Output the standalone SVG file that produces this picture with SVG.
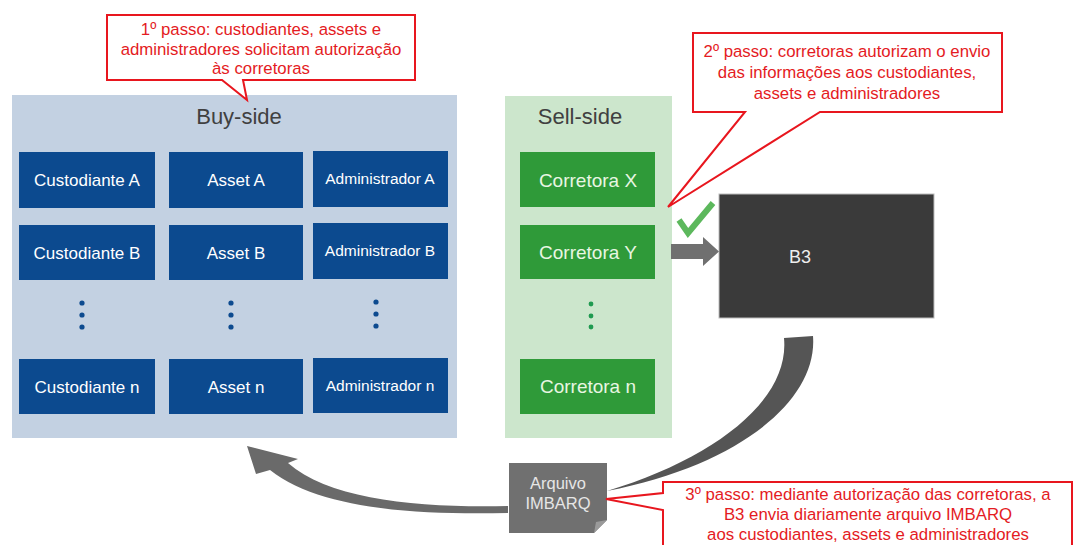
<svg xmlns="http://www.w3.org/2000/svg" width="1073" height="545" viewBox="0 0 1073 545">
<style>
text{font-family:"Liberation Sans",Arial,sans-serif}
.panelB{fill:#c3d1e2}
.panelS{fill:#cce6cc}
.bbox{fill:#0c4a8f}
.gbox{fill:#2f9a39}
.bt{fill:#ffffff;font-size:17px;text-anchor:middle}
.at{fill:#ffffff;font-size:15.5px;text-anchor:middle}
.gt{fill:#e8f6e2;font-size:19px;text-anchor:middle}
.title{fill:#404040;font-size:22px;text-anchor:middle}
.dotB{fill:#0c4a8f}
.dotG{fill:#1f9a50}
.call{fill:#ffffff;stroke:#e8161e;stroke-width:2;stroke-linejoin:miter}
.ct{fill:#e41b23;font-size:16.8px;text-anchor:middle}
</style>
<rect width="1073" height="545" fill="#ffffff"/>

<g id="buy-side">
<rect class="panelB" x="12" y="95" width="445" height="343"/>
<text class="title" x="239" y="124">Buy-side</text>
</g>
<g id="custodiante-a"><rect class="bbox" x="19" y="152" width="136" height="56"/><text class="bt" x="87" y="186">Custodiante A</text></g>
<g id="asset-a"><rect class="bbox" x="169" y="152" width="134" height="56"/><text class="bt" x="236" y="186">Asset A</text></g>
<g id="administrador-a"><rect class="bbox" x="313" y="151" width="135" height="56"/><text class="at" x="380" y="184">Administrador A</text></g>
<g id="custodiante-b"><rect class="bbox" x="19" y="225" width="136" height="55"/><text class="bt" x="87" y="259">Custodiante B</text></g>
<g id="asset-b"><rect class="bbox" x="169" y="225" width="134" height="55"/><text class="bt" x="236" y="259">Asset B</text></g>
<g id="administrador-b"><rect class="bbox" x="313" y="223" width="135" height="56"/><text class="at" x="380" y="256">Administrador B</text></g>
<g id="dots-buy">
<circle class="dotB" cx="82" cy="303" r="2.6"/><circle class="dotB" cx="82" cy="315" r="2.6"/><circle class="dotB" cx="82" cy="327" r="2.6"/>
<circle class="dotB" cx="231" cy="303" r="2.6"/><circle class="dotB" cx="231" cy="315" r="2.6"/><circle class="dotB" cx="231" cy="327" r="2.6"/>
<circle class="dotB" cx="376" cy="302" r="2.6"/><circle class="dotB" cx="376" cy="314" r="2.6"/><circle class="dotB" cx="376" cy="326" r="2.6"/>
</g>
<g id="custodiante-n"><rect class="bbox" x="19" y="359" width="136" height="55"/><text class="bt" x="87" y="393">Custodiante n</text></g>
<g id="asset-n"><rect class="bbox" x="169" y="359" width="134" height="55"/><text class="bt" x="236" y="393">Asset n</text></g>
<g id="administrador-n"><rect class="bbox" x="313" y="358" width="135" height="55"/><text class="at" x="380" y="391">Administrador n</text></g>

<g id="sell-side">
<rect class="panelS" x="505" y="96" width="167" height="342"/>
<text class="title" x="580" y="124">Sell-side</text>
</g>
<g id="corretora-x"><rect class="gbox" x="520" y="152" width="135" height="55"/><text class="gt" x="588" y="187">Corretora X</text></g>
<g id="corretora-y"><rect class="gbox" x="520" y="225" width="135" height="54"/><text class="gt" x="588" y="259">Corretora Y</text></g>
<g id="dots-sell">
<circle class="dotG" cx="591" cy="304" r="2.4"/><circle class="dotG" cx="591" cy="316" r="2.4"/><circle class="dotG" cx="591" cy="327" r="2.4"/>
</g>
<g id="corretora-n"><rect class="gbox" x="520" y="359" width="135" height="55"/><text class="gt" x="588" y="393">Corretora n</text></g>

<g id="b3">
<rect x="719" y="194" width="215" height="124" fill="#3a3a3a" stroke="#bdbdbd" stroke-width="1"/>
<text x="800" y="263" fill="#eeeeee" font-size="18" text-anchor="middle">B3</text>
</g>

<g id="imbarq">
<path d="M509 463 H607 V520 L594 533 H509 Z" fill="#707070"/>
<path d="M607 520 L594 533 L596 522 Z" fill="#9a9a9a"/>
<text x="558" y="489" fill="#e6e6e6" font-size="16.5" text-anchor="middle">Arquivo</text>
<text x="558" y="509" fill="#e6e6e6" font-size="16.5" text-anchor="middle">IMBARQ</text>
</g>

<g id="connectors">
<path d="M671 244 H703 V237 L719 251.5 L703 266 V259 H671 Z" fill="#707070"/>
<path d="M679 220 L688 233 L713 203" fill="none" stroke="#5cb85c" stroke-width="6" stroke-linejoin="miter"/>
<path d="M784 338 L813 336 C818 400 740 465 607 491 C715 458 790 400 784 338 Z" fill="#555555"/>
<path d="M508 506 C420 508 330 500 288 463 L298 459 L247 446 L256 474 L270 470 C320 510 420 515 508 513 Z" fill="#6a6a6a"/>
</g>

<g id="callout-1">
<path class="call" d="M107 15 H415 V80 H243 L247 100 L222 80 H107 Z"/>
<text class="ct" x="261" y="35">1º passo: custodiantes, assets e</text>
<text class="ct" x="261" y="55">administradores solicitam autorização</text>
<text class="ct" x="261" y="74">às corretoras</text>
</g>

<g id="callout-2">
<path class="call" d="M693 33 H1002 V112 H820 L668 207 L745 112 H693 Z"/>
<text class="ct" x="847" y="57">2º passo: corretoras autorizam o envio</text>
<text class="ct" x="847" y="78">das informações aos custodiantes,</text>
<text class="ct" x="847" y="99">assets e administradores</text>
</g>

<g id="callout-3">
<path class="call" d="M663 482 H1072 V550 H663 V510 L606 499 L663 493 Z"/>
<text class="ct" x="868" y="500">3º passo: mediante autorização das corretoras, a</text>
<text class="ct" x="868" y="520">B3 envia diariamente arquivo IMBARQ</text>
<text class="ct" x="868" y="540">aos custodiantes, assets e administradores</text>
</g>
</svg>
